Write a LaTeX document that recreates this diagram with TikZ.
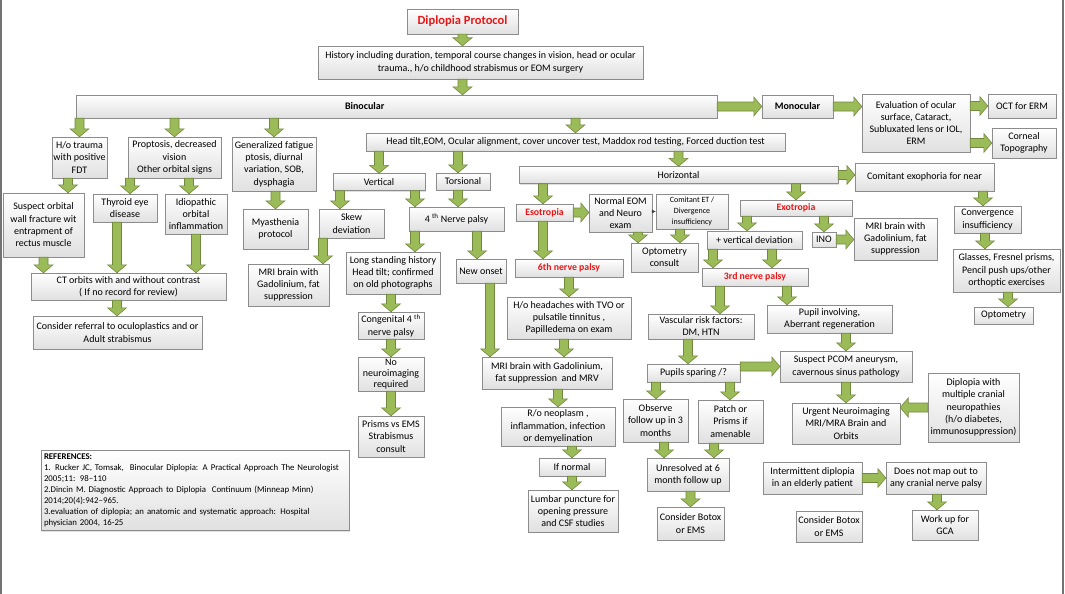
\documentclass[tikz,border=0pt]{standalone}
\usepackage{fontspec}
\setmainfont{Carlito}
\usetikzlibrary{calc,shadows,arrows.meta}
\definecolor{arrowfill}{RGB}{155,187,89}
\definecolor{arrowedge}{RGB}{113,137,63}
\definecolor{boxedge}{RGB}{140,140,140}
\definecolor{alertred}{RGB}{232,22,22}
\begin{document}
\begin{tikzpicture}[x=1pt, y=-1pt,
  box/.style={draw=boxedge, top color=white, bottom color=black!12, align=center, inner sep=1pt,
    font=\fontsize{10}{12.3}\selectfont, drop shadow={shadow xshift=1pt, shadow yshift=-1pt, opacity=.25}},
  wh/.style 2 args={minimum width=#1pt, minimum height=#2pt},
  alert/.style={text=alertred, font=\fontsize{9.8}{12}\selectfont\bfseries},
  barrow/.style={draw=arrowedge, fill=arrowfill, line width=.6pt, line join=miter,
    to path={let \p1=(\tikztostart), \p2=(\tikztotarget),
      \n1={atan2(\y2-\y1,\x2-\x1)}, \n2={veclen(\x2-\x1,\y2-\y1)} in
      {[shift={(\p1)}, rotate=\n1] (0pt,-4.5pt) -- (\n2-8pt,-4.5pt) -- (\n2-8pt,-9.5pt)
       -- (\n2+0pt,0pt) -- (\n2-8pt,9.5pt) -- (\n2-8pt,4.5pt) -- (0pt,4.5pt) -- cycle}}}]
\useasboundingbox (0,0) rectangle (1065,594);
\draw[black!55, line width=2pt] (1,0) -- (1,594) (1063,0) -- (1063,594);

\node (proto) [box, alert, font=\fontsize{12.5}{14}\selectfont\bfseries, wh={111}{25}] at (462.5,21.5) {Diplopia Protocol};
\node (hist) [box, wh={325}{33}] at (480.5,62.5) {History including duration, temporal course changes in vision, head or ocular\\trauma., h/o childhood strabismus or EOM surgery};
\node (bino) [box, wh={641}{23}, text width=631pt, align=left] at (396.5,106.5) {\hspace*{264pt}\textbf{Binocular}};
\node (mono) [box, wh={71}{23}] at (797.5,106.5) {\textbf{Monocular}};
\node (evalu) [box, wh={108}{58}] at (916,123) {Evaluation of ocular\\surface, Cataract,\\Subluxated lens or IOL,\\ERM};
\node (oct) [box, wh={68}{24}] at (1022,106) {OCT for ERM};
\node (corn) [box, wh={64}{30}] at (1024,143) {Corneal\\Topography};

\node (trauma) [box, wh={55}{41}] at (79.5,157.5) {H/o trauma\\with positive\\FDT};
\node (propt) [box, wh={93}{41}] at (174.5,157.5) {Proptosis, decreased\\vision\\Other orbital signs};
\node (gen) [box, wh={84}{54}] at (274,164) {Generalized fatigue\\ptosis, diurnal\\variation, SOB,\\dysphagia};
\node (headtilt) [box, wh={419}{18}] at (575.5,142) {Head tilt,EOM, Ocular alignment, cover uncover test, Maddox rod testing, Forced duction test};

\node (suspect) [box, wh={81}{64}] at (43.5,225) {Suspect orbital\\wall fracture wit\\entrapment of\\rectus muscle};
\node (thyroid) [box, wh={64}{28}] at (125,208) {Thyroid eye\\disease};
\node (idio) [box, wh={62}{40}] at (196,214) {Idiopathic\\orbital\\inflammation};
\node (myas) [box, wh={65}{40}] at (275.5,229) {Myasthenia\\protocol};
\node (ct) [box, wh={195}{27}] at (128.5,286.5) {CT orbits with and without contrast\\( If no record for review)};
\node (refer) [box, wh={169}{33}] at (117.5,332.5) {Consider referral to oculoplastics and or\\Adult strabismus};

\node (vert) [box, wh={92}{17}] at (379,182) {Vertical};
\node (tors) [box, wh={54}{17}] at (463,181.5) {Torsional};
\node (horiz) [box, wh={319}{17}] at (678.5,175) {Horizontal};
\node (skew) [box, wh={65}{29}] at (351.5,223.5) {Skew\\deviation};
\node (fourth) [box, wh={95}{24}] at (456.5,219) {4 \textsuperscript{th} Nerve palsy};
\node (mril) [box, wh={81}{42}] at (288.5,285) {MRI brain with\\Gadolinium, fat\\suppression};
\node (longst) [box, wh={94}{42}] at (393,273) {Long standing history\\Head tilt; confirmed\\on old photographs};
\node (newon) [box, wh={50}{24}] at (481,271) {New onset};
\node (cong) [box, wh={66}{27}] at (391,325.5) {Congenital 4 \textsuperscript{th}\\nerve palsy};
\node (noneuro) [box, wh={66}{34}, font=\fontsize{10}{11.3}\selectfont] at (391,374) {No\\neuroimaging\\required};
\node (prisms) [box, wh={66}{41}] at (391,436.5) {Prisms vs EMS\\Strabismus\\consult};
\node (mrim) [box, wh={130}{32}] at (547,373) {MRI brain with Gadolinium,\\fat suppression\ \ and MRV};

\node (eso) [box, alert, wh={57}{17}] at (544.5,212.5) {Esotropia};
\node (normal) [box, wh={63}{38}] at (620.5,213) {Normal EOM\\and Neuro\\exam};
\node (comet) [box, wh={72}{35}, font=\fontsize{8}{10.8}\selectfont] at (692,211.5) {Comitant ET /\\Divergence\\insufficiency};
\node (optc) [box, wh={67}{29}] at (664.5,257.5) {Optometry\\consult};
\node (sixth) [box, alert, wh={108}{18}] at (569,268) {6th nerve palsy};
\node (head) [box, wh={124}{42}] at (569,318) {H/o headaches with TVO or\\pulsatile tinnitus ,\\Papilledema on exam};
\node (rone) [box, wh={114}{39}] at (558,426.5) {R/o neoplasm ,\\inflammation, infection\\or demyelination};
\node (ifn) [box, wh={66}{18}] at (572,467) {If normal};
\node (lumb) [box, wh={90}{42}] at (573,511) {Lumbar puncture for\\opening pressure\\and CSF studies};

\node (exo) [box, alert, wh={112}{16}] at (796,208) {Exotropia};
\node (plusv) [box, wh={95}{18}] at (754.5,240) {+ vertical deviation};
\node (ino) [box, wh={24}{15}] at (824,239.5) {INO};
\node (mrir) [box, wh={83}{42}] at (895.5,239) {MRI brain with\\Gadolinium, fat\\suppression};
\node (third) [box, alert, wh={106}{18}] at (755,277) {3rd nerve palsy};
\node (vasc) [box, wh={106}{25}] at (701,326.5) {Vascular risk factors:\\DM, HTN};
\node (pupinv) [box, wh={125}{28}] at (829.5,319) {Pupil involving,\\Aberrant regeneration};
\node (pspar) [box, wh={93}{18}] at (693.5,373) {Pupils sparing /?};
\node (pcom) [box, wh={132}{31}] at (846,366.5) {Suspect PCOM aneurysm,\\cavernous sinus pathology};
\node (observe) [box, wh={65}{43}] at (655.5,420.5) {Observe\\follow up in 3\\months};
\node (patch) [box, wh={65}{43}] at (730.5,421.5) {Patch or\\Prisms if\\amenable};
\node (unres) [box, wh={82}{33}] at (688,474.5) {Unresolved at 6\\month follow up};
\node (botoxa) [box, wh={67}{33}] at (690.5,523.5) {Consider Botox\\or EMS};
\node (urgent) [box, wh={108}{41}] at (846,423.5) {Urgent Neuroimaging\\MRI/MRA Brain and\\Orbits};
\node (multi) [box, wh={91}{69}] at (973.5,407.5) {Diplopia with\\multiple cranial\\neuropathies\\(h/o diabetes,\\immunosuppression)};
\node (interm) [box, wh={99}{32}] at (812.5,478) {Intermittent diplopia\\in an elderly patient};
\node (notmap) [box, wh={100}{32}] at (936,478) {Does not map out to\\any cranial nerve palsy};
\node (gca) [box, wh={66}{30}] at (945,525) {Work up for\\GCA};
\node (botoxb) [box, wh={66}{31}] at (829,526.5) {Consider Botox\\or EMS};

\node (compho) [box, wh={139}{28}] at (924.5,177) {Comitant exophoria for near};
\node (conv) [box, wh={67}{27}] at (987.5,219.5) {Convergence\\insufficiency};
\node (glass) [box, wh={107}{43}] at (1006.5,270.5) {Glasses, Fresnel prisms,\\Pencil push ups/other\\orthoptic exercises};
\node (optom) [box, wh={59}{17}] at (1003.5,315.5) {Optometry};

\node (refs) [box, wh={308}{80}, text width=302pt, align=left, font=\fontsize{8.8}{11}\selectfont] at (195,490.5) {\textbf{REFERENCES:}\\1. Rucker JC, Tomsak,\ \ Binocular Diplopia: A Practical Approach The Neurologist\\2005;11: 98–110\\2.Dincin M. Diagnostic Approach to Diplopia\ \ Continuum (Minneap Minn)\\2014;20(4):942–965.\\3.evaluation of diplopia; an anatomic and systematic approach: Hospital\\physician 2004, 16-25};

\draw[barrow] (proto.south) to (proto.south |- hist.north);
\draw[barrow] (hist.south -| proto) to (bino.north -| proto);
\draw[barrow] (bino.east) to (mono.west);
\draw[barrow] (mono.east) to (evalu.west |- mono);
\draw[barrow] (evalu.east |- oct) to (oct.west);
\draw[barrow] (evalu.east |- corn) to (corn.west);
\draw[barrow] (bino.south -| trauma) to (trauma.north);
\draw[barrow] (bino.south -| propt) to (propt.north);
\draw[barrow] (bino.south -| gen) to (gen.north);
\draw[barrow] (bino.south -| headtilt) to (headtilt.north);
\draw[barrow] (trauma.south -| 68,0) to (suspect.north -| 68,0);
\draw[barrow] (propt.south -| 130,0) to (thyroid.north -| 130,0);
\draw[barrow] (propt.south -| 189,0) to (idio.north -| 189,0);
\draw[barrow] (gen.south -| myas) to (myas.north);
\draw[barrow] (suspect.south) to (suspect.south |- ct.north);
\draw[barrow] (thyroid.south -| 117,0) to (ct.north -| 117,0);
\draw[barrow] (idio.south) to (idio.south |- ct.north);
\draw[barrow] (ct.south -| 117,0) to (refer.north -| 117,0);

\draw[barrow] (headtilt.south -| vert) to (vert.north);
\draw[barrow] (headtilt.south -| 458,0) to (tors.north -| 458,0);
\draw[barrow] (headtilt.south -| horiz) to (horiz.north);
\draw[barrow] (vert.south -| 340,0) to (skew.north -| 340,0);
\draw[barrow] (vert.south -| 415,0) to (fourth.north -| 415,0);
\draw[barrow] (tors.south -| 458,0) to (fourth.north -| 458,0);
\draw[barrow] (skew.south -| 323,0) to (mril.north -| 323,0);
\draw[barrow] (fourth.south -| 415,0) to (longst.north -| 415,0);
\draw[barrow] (fourth.south -| 477,0) to (newon.north -| 477,0);
\draw[barrow] (longst.south -| cong) to (cong.north);
\draw[barrow] (cong.south) to (noneuro.north);
\draw[barrow] (noneuro.south) to (prisms.north);
\draw[barrow] (newon.south -| 490,0) to (mrim.north -| 490,0);

\draw[barrow] (horiz.south -| 543,0) to (eso.north -| 543,0);
\draw[barrow] (eso.east) to (normal.west |- eso);
\draw[-{Latex[length=4pt,width=4pt]}, black!75] (normal.east |- comet) -- (comet.west);
\draw[barrow] (eso.south -| 543,0) to (sixth.north -| 543,0);
\draw[barrow] (normal.south -| 638,0) to (optc.north -| 638,0);
\draw[barrow] (comet.south -| 680,0) to (optc.north -| 680,0);
\draw[barrow] (sixth.south -| head) to (head.north);
\draw[barrow] (head.south -| 564,0) to (mrim.north -| 564,0);
\draw[barrow] (mrim.south -| rone) to (rone.north);
\draw[barrow] (rone.south -| ifn) to (ifn.north);
\draw[barrow] (ifn.south) to (ifn.south |- lumb.north);

\draw[barrow] (horiz.south -| exo) to (exo.north);
\draw[barrow] (horiz.east) to (compho.west |- horiz);
\draw[barrow] (exo.south -| 747,0) to (plusv.north -| 747,0);
\draw[barrow] (exo.south -| ino) to (ino.north);
\draw[barrow] (ino.east) to (mrir.west |- ino);
\draw[barrow] (plusv.south -| 713,0) to (third.north -| 713,0);
\draw[barrow] (plusv.south -| 772,0) to (third.north -| 772,0);
\draw[barrow] (third.south -| 720,0) to (vasc.north -| 720,0);
\draw[barrow] (third.south -| 787,0) to (pupinv.north -| 787,0);
\draw[barrow] (vasc.south -| 688,0) to (pspar.north -| 688,0);
\draw[barrow] (pspar.east |- pcom) to (pcom.west);
\draw[barrow] (pupinv.south -| pcom) to (pcom.north);
\draw[barrow] (pspar.south -| 656,0) to (observe.north -| 656,0);
\draw[barrow] (pspar.south -| 730,0) to (patch.north -| 730,0);
\draw[barrow] (observe.south -| 664,0) to (unres.north -| 664,0);
\draw[barrow] (patch.south -| 714,0) to (unres.north -| 714,0);
\draw[barrow] (unres.south -| botoxa) to (botoxa.north);
\draw[barrow] (pcom.south) to (urgent.north);
\draw[barrow] (multi.west) to (urgent.east |- multi);
\draw[barrow] (interm.east) to (notmap.west |- interm);
\draw[barrow] (notmap.south -| 937,0) to (gca.north -| 937,0);
\draw[barrow] (compho.south -| 983,0) to (conv.north -| 983,0);
\draw[barrow] (conv.south -| 985,0) to (glass.north -| 985,0);
\draw[barrow] (glass.south -| 1008,0) to (optom.north -| 1008,0);
\end{tikzpicture}
\end{document}
